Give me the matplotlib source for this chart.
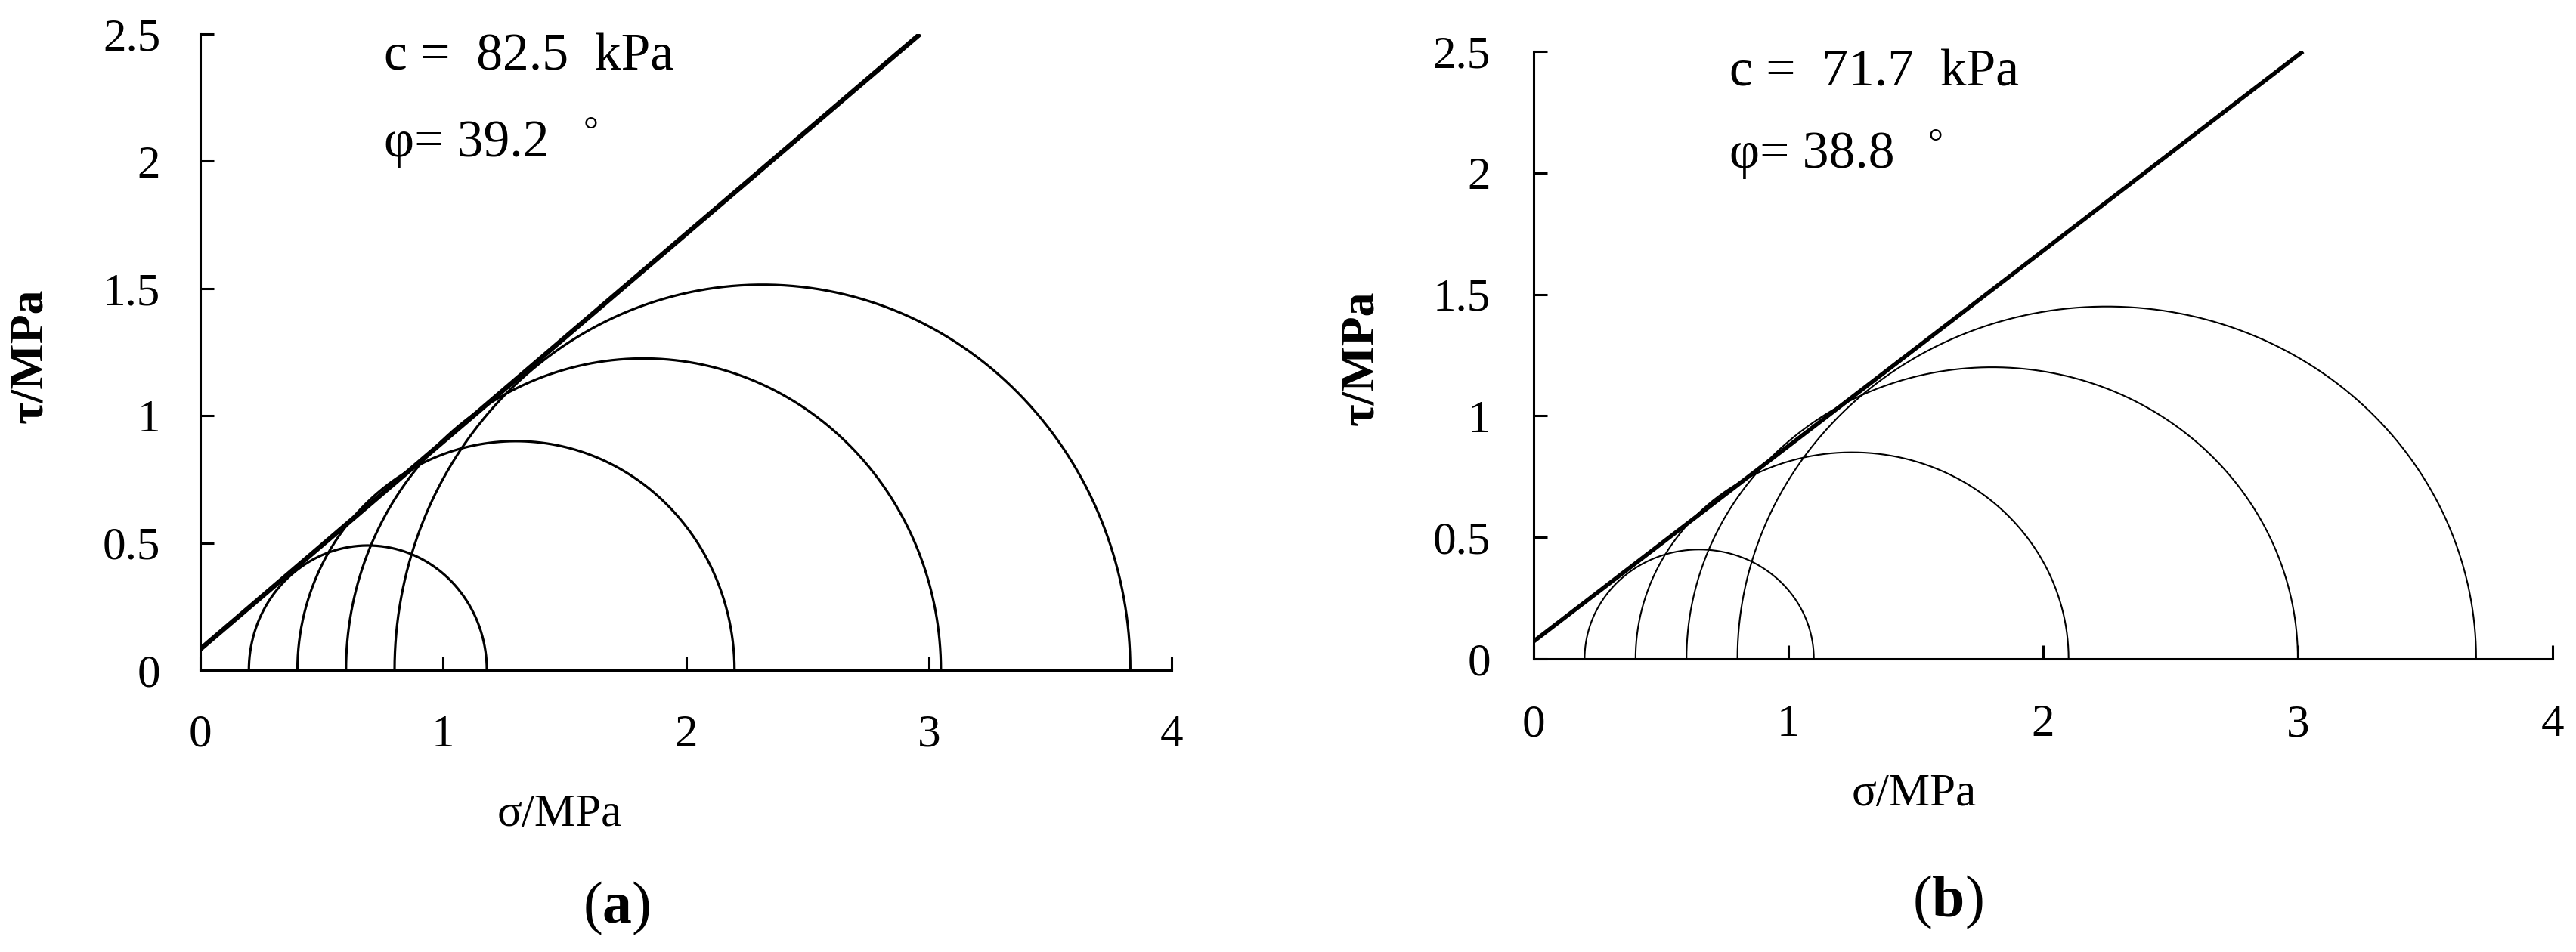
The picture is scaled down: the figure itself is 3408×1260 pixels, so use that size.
import numpy as np
import matplotlib
matplotlib.use("Agg")
import matplotlib.pyplot as plt

plt.rcParams["font.family"] = ["Liberation Serif", "DejaVu Serif"]
plt.rcParams["mathtext.fontset"] = "custom"
plt.rcParams["mathtext.rm"] = "Liberation Serif"
plt.rcParams["mathtext.bf"] = "Liberation Serif:bold"

# Mohr circles (MPa): minor / major principal stress for each test
sigma3_a = [0.2, 0.4, 0.6, 0.8]
sigma1_a = [1.18, 2.2, 3.05, 3.83]
sigma3_b = [0.2, 0.4, 0.6, 0.8]
sigma1_b = [1.1, 2.1, 3.0, 3.7]

# strength envelope parameters
c_a, phi_a = 82.5, 39.2   # kPa, degrees
c_b, phi_b = 71.7, 38.8

x_ticks = [0, 1, 2, 3, 4]
y_ticks = [0, 0.5, 1, 1.5, 2, 2.5]
x_ticklabels = ["0", "1", "2", "3", "4"]
y_ticklabels = ["0", "0.5", "1", "1.5", "2", "2.5"]

W, H = 3408, 1260
fig = plt.figure(figsize=(W / 100, H / 100), dpi=100)


def px(x, y):
    return x / W, 1 - y / H


def draw_panel(rect, s3, s1, c, phi, circ_lw, line_lw, xpad, ypad, txt_x):
    ax = fig.add_axes(rect)
    theta = np.linspace(0, np.pi, 400)
    for a, b in zip(s3, s1):
        ctr, r = (a + b) / 2, (b - a) / 2
        ax.plot(ctr + r * np.cos(theta), r * np.sin(theta), color="black", lw=circ_lw)
    cm = c / 1000.0
    slope = np.tan(np.radians(phi))
    x_end = (2.5 - cm) / slope
    ax.plot([0, x_end], [cm, 2.5], color="black", lw=line_lw, solid_capstyle="butt")

    ax.set_xlim(0, 4)
    ax.set_ylim(0, 2.5)
    ax.set_xticks(x_ticks)
    ax.set_xticklabels(x_ticklabels)
    ax.set_yticks(y_ticks)
    ax.set_yticklabels(y_ticklabels)
    for s in ["top", "right"]:
        ax.spines[s].set_visible(False)
    for s in ["left", "bottom"]:
        ax.spines[s].set_linewidth(2.2)
    ax.tick_params(direction="in", length=13, width=2.2, labelsize=44)
    ax.tick_params(axis="x", pad=xpad)
    ax.tick_params(axis="y", pad=ypad)

    ax.text(txt_x, 2.36, f"c =  {c}  kPa", fontsize=50, va="baseline", ha="left")
    t = ax.text(txt_x, 2.02, f"φ= {phi}", fontsize=50, va="baseline", ha="left")
    ax.annotate("°", xy=(1, 1), xycoords=t, xytext=(32, 4), textcoords="offset points",
                fontsize=36, ha="left", va="top")
    return ax


draw_panel([265 / W, 1 - 887 / H, 1285 / W, 842 / H],
           sigma3_a, sigma1_a, c_a, phi_a, 2.3, 4.6, 42, 38, 0.757)
draw_panel([2029 / W, 1 - 872 / H, 1348 / W, 804 / H],
           sigma3_b, sigma1_b, c_b, phi_b, 1.5, 4.0, 43, 41, 0.769)

# axis labels and panel tags
for (x, y) in [(40, 471), (1801, 474)]:
    fig.text(*px(x, y), "τ/MPa", rotation=90, fontsize=46, fontweight="bold",
             ha="center", va="center")
for (x, y) in [(740, 1078), (2532, 1051)]:
    fig.text(*px(x, y), "σ/MPa", fontsize=44, ha="center", va="center")
fig.text(*px(816, 1202), r"($\mathbf{a}$)", fontsize=56, ha="center", va="center")
fig.text(*px(2577, 1194), r"($\mathbf{b}$)", fontsize=56, ha="center", va="center")

fig.savefig("out.png", dpi=100)
